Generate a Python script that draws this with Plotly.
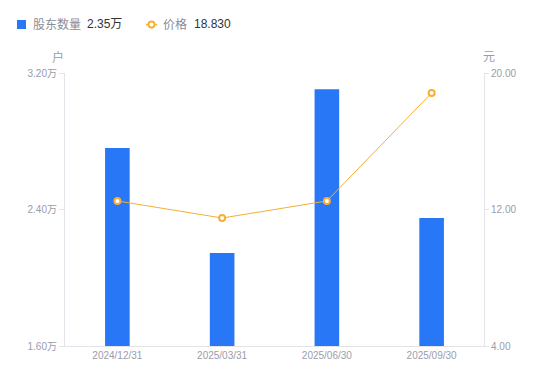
import plotly.graph_objects as go

dates = ["2024/12/31", "2025/03/31", "2025/06/30", "2025/09/30"]
holders = [2.76, 2.145, 3.105, 2.35]   # 万户
price = [12.50, 11.50, 12.50, 18.83]   # 元

left_ticks = [1.6, 2.4, 3.2]
left_labels = ["1.60万", "2.40万", "3.20万"]
right_ticks = [4, 12, 20]
right_labels = ["4.00", "12.00", "20.00"]

FONT = "Liberation Sans, Arial, Noto Sans CJK SC, sans-serif"
GRAY = "#9a9cab"
BLUE = "#2777F6"
ORANGE = "#F7AE35"

# plot-area geometry (pixels) used to place the custom legend
L, R, T, B = 65, 484, 73, 346
def px(x): return (x - L) / (R - L)
def py(y): return (B - y) / (B - T)

fig = go.Figure()
fig.add_trace(go.Bar(
    x=dates, y=holders, name="股东数量",
    marker=dict(color=BLUE, line=dict(width=0)), width=0.235, yaxis="y",
))
fig.add_trace(go.Scatter(
    x=dates, y=price, name="价格",
    mode="lines+markers", yaxis="y2",
    line=dict(color=ORANGE, width=1),
    marker=dict(symbol="circle", size=6, color="white", line=dict(color=ORANGE, width=2)),
))

fig.update_layout(
    width=550, height=381,
    margin=dict(l=L, r=550 - R, t=T, b=381 - B),
    paper_bgcolor="white", plot_bgcolor="white",
    font=dict(family=FONT, size=10, color=GRAY),
    showlegend=False,
    xaxis=dict(
        type="category", showgrid=False, showline=True, linecolor="#e3e4ea", linewidth=1,
        ticks="", tickfont=dict(size=10, color=GRAY), zeroline=False,
    ),
    yaxis=dict(
        range=[1.6, 3.2], tickmode="array", tickvals=left_ticks, ticktext=left_labels,
        showgrid=False, showline=True, linecolor="#e3e4ea", linewidth=1,
        ticks="outside", ticklen=5, tickcolor="#e3e4ea", zeroline=False,
        tickfont=dict(size=10, color=GRAY),
    ),
    yaxis2=dict(
        range=[4, 20], tickmode="array", tickvals=right_ticks, ticktext=right_labels,
        overlaying="y", side="right",
        showgrid=False, showline=True, linecolor="#e3e4ea", linewidth=1,
        ticks="outside", ticklen=4, tickcolor="#e3e4ea", zeroline=False,
        tickfont=dict(size=10, color=GRAY),
    ),
)

# axis unit titles
fig.add_annotation(text="户", xref="paper", yref="paper", x=px(58), y=py(57), showarrow=False,
                   font=dict(size=12, color=GRAY), xanchor="center", yanchor="middle")
fig.add_annotation(text="元", xref="paper", yref="paper", x=px(489), y=py(57), showarrow=False,
                   font=dict(size=12, color=GRAY), xanchor="center", yanchor="middle")

# custom legend
fig.add_shape(type="rect", xref="paper", yref="paper", x0=px(17), x1=px(26), y0=py(29), y1=py(20),
              fillcolor=BLUE, line=dict(width=0))
fig.add_shape(type="line", xref="paper", yref="paper", x0=px(146), x1=px(157), y0=py(24.5), y1=py(24.5),
              line=dict(color=ORANGE, width=1.5))
fig.add_shape(type="circle", xref="paper", yref="paper", x0=px(148.5), x1=px(154.5), y0=py(27.5), y1=py(21.5),
              fillcolor="white", line=dict(color=ORANGE, width=1.8))
for txt, x, col in [("股东数量", 31, "#8a8c99"), ("2.35万", 85, "#333333"),
                    ("价格", 161, "#8a8c99"), ("18.830", 192, "#333333")]:
    fig.add_annotation(text=txt, xref="paper", yref="paper", x=px(x), y=py(24.5), showarrow=False,
                       font=dict(size=12, color=col), xanchor="left", yanchor="middle")

fig.write_html("out.html", config={"displayModeBar": False},
               post_script="document.body.style.margin='0';document.body.style.padding='0';")
